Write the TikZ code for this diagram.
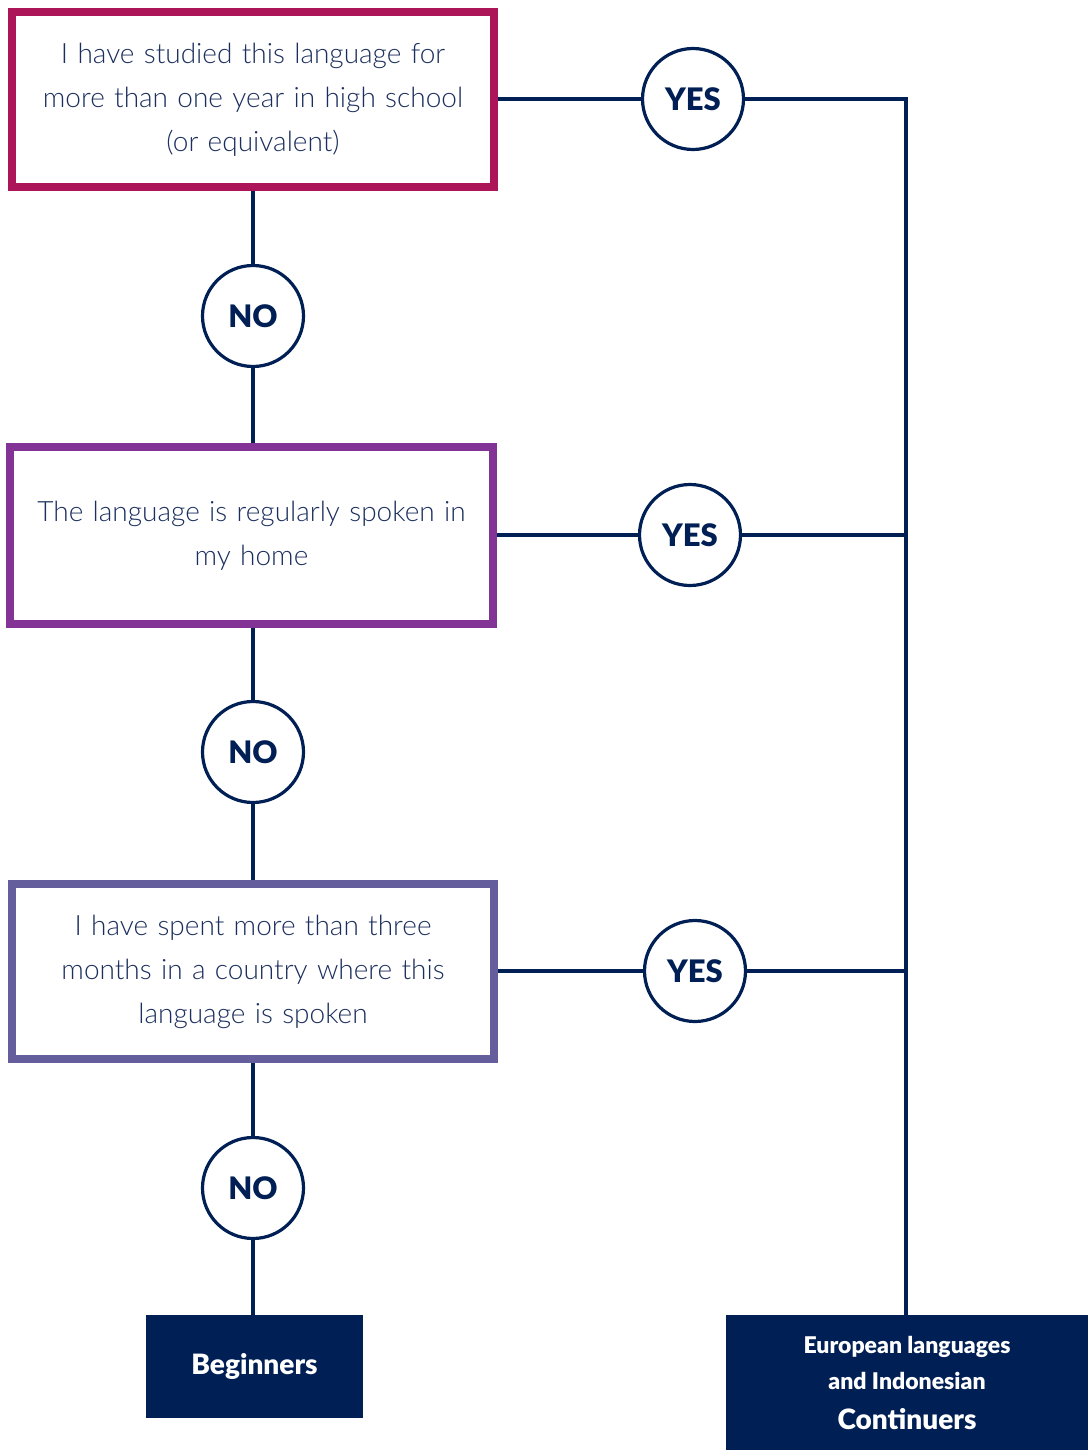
\documentclass[tikz,border=0pt]{standalone}
\usepackage{fontspec}
\setmainfont{Lato}[UprightFont={* Light},BoldFont={* Black}]
\definecolor{navy}{HTML}{001F54}
\definecolor{txt}{HTML}{1B2F5E}
\definecolor{magen}{HTML}{AC1558}
\definecolor{purp}{HTML}{833396}
\definecolor{slate}{HTML}{645E9D}
\begin{document}
\begin{tikzpicture}[x=1pt,y=-1pt,
  qbox/.style={draw,line width=8pt,fill=white,minimum width=482pt,minimum height=175pt,
    text width=460pt,align=center,text=txt,font=\fontsize{28}{44}\selectfont,inner sep=0pt},
  yn/.style={circle,draw=navy,line width=3.2pt,fill=white,minimum size=101pt,inner sep=0pt,
    text=navy,font=\fontsize{31}{32}\selectfont\bfseries},
  outbox/.style={fill=navy,text=white,align=center,inner sep=0pt,font=\bfseries},
  conn/.style={draw=navy,line width=3.2pt}]
\useasboundingbox (0,0) rectangle (1088,1450);
\coordinate (b1c) at (253,99.5);
\coordinate (b2c) at (251.5,535.5);
\coordinate (b3c) at (253,971.5);
\node[yn] (n1) at (253,316) {NO};
\node[yn] (n2) at (253,752) {NO};
\node[yn] (n3) at (253,1188) {NO};
\node[yn] (y1) at (693,99) {YES};
\node[yn] (y2) at (690,535) {YES};
\node[yn] (y3) at (695,971) {YES};
\node[outbox,minimum width=217pt,minimum height=103pt,font=\fontsize{28}{30}\selectfont\bfseries] (beg) at (254.5,1366.5) {Beginners};
\node[outbox,minimum width=362pt,minimum height=135pt,font=\fontsize{23}{36}\selectfont\bfseries] (cont) at (907,1382.5) {European languages\\ and Indonesian\\[4pt] \fontsize{28}{36}\selectfont Continuers};
\coordinate (c1) at (906,99);
\coordinate (c2) at (906,535);
\coordinate (c3) at (906,971);
\coordinate (cb) at (906,1315);
% connectors
\path[conn] (b1c) -- (n1.north);
\path[conn] (n1.south) -- (253,443);
\path[conn] (253,628) -- (n2.north);
\path[conn] (n2.south) -- (253,880);
\path[conn] (253,1063) -- (n3.north);
\path[conn] (n3.south) -- (beg.north -| n3);
\path[conn] (498,99) -- (y1.west);
\path[conn] (497,535) -- (y2.west);
\path[conn] (498,971) -- (y3.west);
\path[conn] (y1.east) -- (c1) -- (cb);
\path[conn] (y2.east) -- (c2);
\path[conn] (y3.east) -- (c3);
\node[qbox,draw=magen] (b1) at (b1c) {I have studied this language for\\ more than one year in high school\\ (or equivalent)};
\node[qbox,draw=purp,minimum width=483pt,minimum height=177pt] (b2) at (b2c) {The language is regularly spoken in\\ my home};
\node[qbox,draw=slate] (b3) at (b3c) {I have spent more than three\\ months in a country where this\\ language is spoken};
\end{tikzpicture}
\end{document}
